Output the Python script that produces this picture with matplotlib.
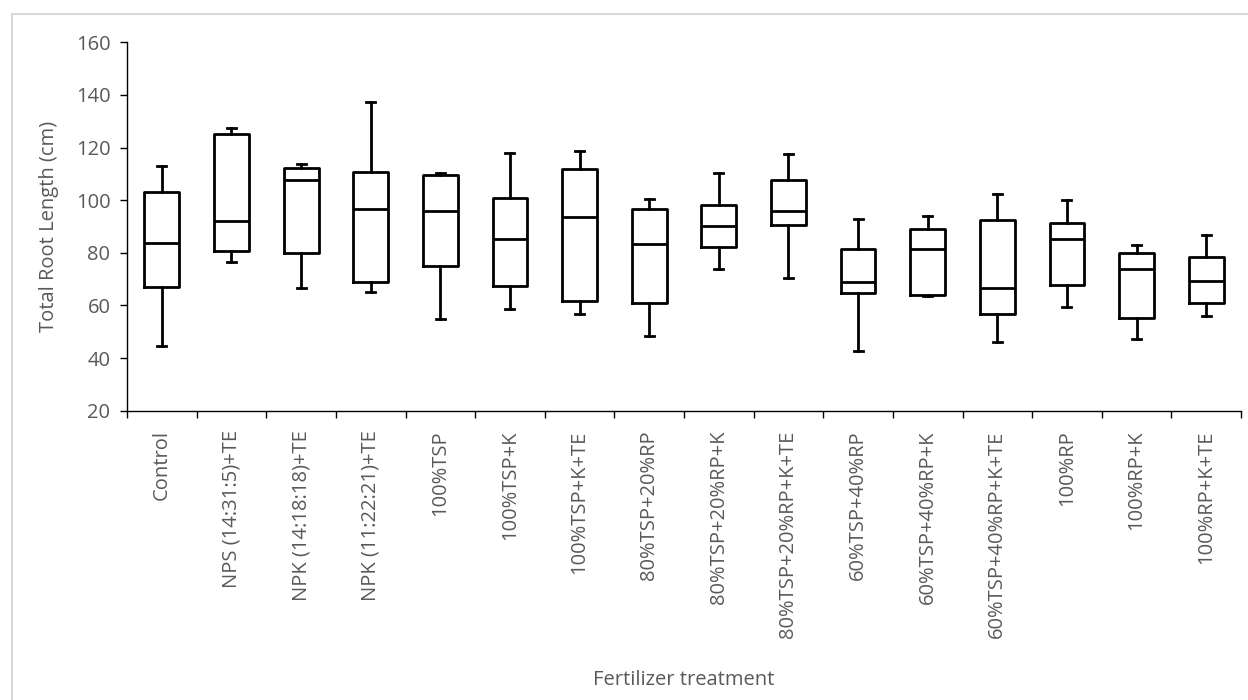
import matplotlib.pyplot as plt
from matplotlib.lines import Line2D

# Treatments and box statistics
treatments = [
    "Control", "NPS (14:31:5)+TE", "NPK (14:18:18)+TE", "NPK (11:22:21)+TE",
    "100%TSP", "100%TSP+K", "100%TSP+K+TE", "80%TSP+20%RP",
    "80%TSP+20%RP+K", "80%TSP+20%RP+K+TE", "60%TSP+40%RP", "60%TSP+40%RP+K",
    "60%TSP+40%RP+K+TE", "100%RP", "100%RP+K", "100%RP+K+TE",
]
mins = [44.4, 76.5, 66.6, 65.1, 54.8, 58.7, 56.7, 48.5,
        73.9, 70.6, 42.5, 63.6, 46.2, 59.5, 47.3, 56.1]
q1s = [67.1, 80.8, 79.9, 68.9, 74.8, 67.3, 61.5, 60.9,
       82.2, 90.5, 64.8, 63.8, 56.8, 67.7, 55.3, 61.0]
medians = [83.8, 91.9, 107.8, 96.5, 96.0, 85.1, 93.7, 83.3,
           90.1, 96.0, 68.9, 81.5, 66.8, 85.2, 74.0, 69.4]
q3s = [103.0, 125.3, 112.4, 110.8, 109.4, 100.9, 111.8, 96.6,
       98.1, 107.5, 81.6, 88.9, 92.3, 91.3, 79.9, 78.4]
maxs = [112.8, 127.6, 113.7, 137.3, 110.4, 118.1, 118.7, 100.5,
        110.3, 117.6, 92.8, 93.8, 102.3, 100.0, 83.0, 86.6]

y_ticks = [20, 40, 60, 80, 100, 120, 140, 160]

plt.rcParams["font.family"] = ["Open Sans", "DejaVu Sans"]
TEXT = "#595959"
FS = 14.5

fig = plt.figure(figsize=(12.48, 7.0), dpi=100)
ax = fig.add_axes([0.1018, 0.4133, 0.8926, 0.5263])

stats = []
for i, name in enumerate(treatments):
    stats.append({
        "label": name, "whislo": mins[i], "q1": q1s[i], "med": medians[i],
        "q3": q3s[i], "whishi": maxs[i], "fliers": [],
    })

lw = 2.0
ax.bxp(stats, positions=range(1, len(stats) + 1), widths=0.5,
       showfliers=False, patch_artist=False,
       boxprops=dict(color="black", linewidth=lw),
       medianprops=dict(color="black", linewidth=lw),
       whiskerprops=dict(color="black", linewidth=lw),
       capprops=dict(color="black", linewidth=lw),
       capwidths=0.13)

ax.set_xlim(0.5, len(stats) + 0.5)
ax.set_ylim(20, 160)
ax.set_yticks(y_ticks)
ax.set_xticks(range(1, len(stats) + 1))
ax.set_xticklabels(treatments, rotation=90, fontsize=FS, color=TEXT)
ax.set_xticks([i + 0.5 for i in range(len(stats) + 1)], minor=True)
ax.tick_params(axis="x", which="major", length=0, pad=14)
ax.tick_params(axis="x", which="minor", length=5, width=1, color="black")
ax.tick_params(axis="y", length=5, width=1, color="black", pad=7,
               labelsize=FS, labelcolor=TEXT)

for side in ["top", "right"]:
    ax.spines[side].set_visible(False)
for side in ["left", "bottom"]:
    ax.spines[side].set_linewidth(1)
    ax.spines[side].set_color("black")

ax.set_ylabel("Total Root Length (cm)", fontsize=FS, color=TEXT, labelpad=12)
fig.text(0.548, 0.028, "Fertilizer treatment", ha="center", va="center",
         fontsize=FS, color=TEXT)

# light chart-area border (only left and top edges visible)
bx, by = 11.5 / 1248, 1 - 13.5 / 700
fig.add_artist(Line2D([bx, bx], [0, by], transform=fig.transFigure,
                      color="#d9d9d9", linewidth=1.5))
fig.add_artist(Line2D([bx, 1], [by, by], transform=fig.transFigure,
                      color="#d9d9d9", linewidth=1.5))

fig.savefig("out.png", dpi=100)
